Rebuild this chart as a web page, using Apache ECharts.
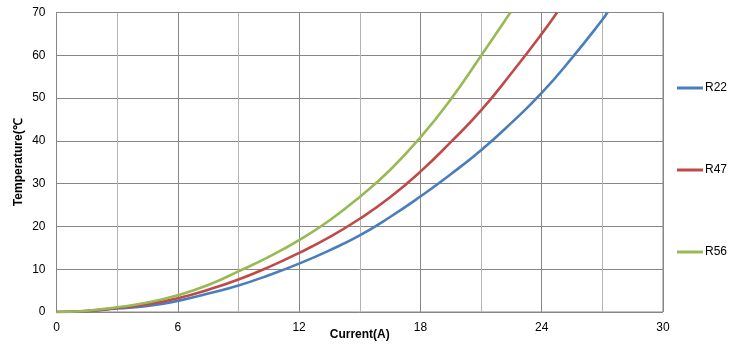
<!DOCTYPE html>
<html>
<head>
<meta charset="utf-8">
<script src="https://cdn.jsdelivr.net/npm/echarts@6/dist/echarts.min.js"></script>
<style>html,body{margin:0;padding:0;background:#fff;}#c{width:741px;height:355px;}</style>
</head>
<body>
<div id="c"></div>
<script>
const seriesNames = ['R22', 'R47', 'R56'];
const r22 = [[0,0],[1.5,0.2],[3,0.8],[4.5,1.4],[6,2.6],[7.5,4.3],[9,6.2],[10.5,8.6],[12,11.3],[13.5,14.4],[15,17.9],[16.5,22.2],[18,27.0],[19.5,32.2],[21,37.8],[22.5,44.2],[24,51.2],[25.5,59.4],[27,68.3],[27.25,70]];
const r47 = [[0,0],[1.5,0.25],[3,0.95],[4.5,1.8],[6,3.2],[7.5,5.2],[9,7.6],[10.5,10.5],[12,13.8],[13.5,17.5],[15,21.8],[16.5,26.8],[18,32.8],[19.5,39.7],[21,47.1],[22.5,55.8],[24,65.0],[24.76,70]];
const r56 = [[0,0],[1.5,0.3],[3,1.1],[4.5,2.2],[6,3.9],[7.5,6.3],[9,9.5],[10.5,12.9],[12,16.8],[13.5,21.4],[15,26.9],[16.5,33.2],[18,40.8],[19.5,49.7],[21,59.9],[22.45,70]];
const colors = ['#4a7ebb', '#be4b48', '#98b954'];
const xTicks = [0, 6, 12, 18, 24, 30];

const chart = echarts.init(document.getElementById('c'), null, {renderer: 'canvas'});
const font = '"Liberation Sans", Arial, sans-serif';
chart.setOption({
  animation: false,
  textStyle: {fontFamily: font},
  color: colors,
  grid: {left: 56.5, right: 78, top: 12.5, bottom: 43, show: true, borderColor: '#868686', borderWidth: 1},
  legend: {
    orient: 'vertical', left: 677, top: 82, itemGap: 70, padding: 0,
    itemWidth: 26, itemHeight: 3,
    textStyle: {fontSize: 12, color: '#000', fontFamily: font, padding: [0,0,0,-3]},
    data: seriesNames.map(n => ({name: n, icon: 'rect'}))
  },
  xAxis: {
    type: 'value', min: 0, max: 30, interval: 3,
    name: 'Current(A)', nameLocation: 'middle', nameGap: 17, nameMoveOverlap: false,
    nameTextStyle: {fontWeight: 'bold', fontSize: 12, color: '#000', fontFamily: font},
    axisLine: {show: false}, axisTick: {show: false},
    axisLabel: {fontSize: 12, color: '#000', margin: 10, fontFamily: font,
      formatter: v => xTicks.indexOf(v) >= 0 ? String(v) : ''},
    splitLine: {show: true, lineStyle: {color: ['#868686', '#b3b3b3'], width: 1}}
  },
  yAxis: {
    type: 'value', min: 0, max: 70, interval: 10,
    name: 'Temperature(℃', nameLocation: 'middle', nameGap: 32, nameMoveOverlap: false,
    nameTextStyle: {fontWeight: 'bold', fontSize: 12, color: '#000', fontFamily: font},
    axisLine: {show: false}, axisTick: {show: false},
    axisLabel: {fontSize: 12, color: '#000', margin: 11, fontFamily: font},
    splitLine: {show: true, lineStyle: {color: '#868686', width: 1}}
  },
  series: seriesNames.map((n, i) => ({
    name: n, type: 'line', data: [r22, r47, r56][i], smooth: 0.5,
    showSymbol: false, lineStyle: {width: 2.6}
  }))
});
</script>
</body>
</html>
